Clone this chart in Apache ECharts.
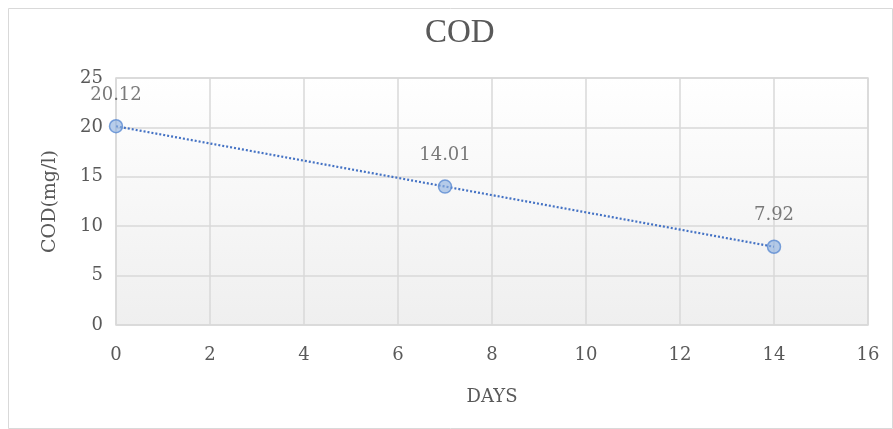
<!DOCTYPE html>
<html>
<head>
<meta charset="utf-8">
<script src="https://cdn.jsdelivr.net/npm/echarts@6/dist/echarts.min.js"></script>
<style>
html,body{margin:0;padding:0;background:#fff;}
#c{width:893px;height:429px;}
</style>
</head>
<body>
<div id="c"></div>
<script>
var days = [0, 7, 14];
var cod = [20.12, 14.01, 7.92];
var xTicks = [0, 2, 4, 6, 8, 10, 12, 14, 16];
var yTicks = [0, 5, 10, 15, 20, 25];

// linear trendline (least squares) from the data
var n = days.length, sx = 0, sy = 0, sxy = 0, sxx = 0;
for (var i = 0; i < n; i++) { sx += days[i]; sy += cod[i]; sxy += days[i]*cod[i]; sxx += days[i]*days[i]; }
var slope = (n*sxy - sx*sy) / (n*sxx - sx*sx);
var icpt = (sy - slope*sx) / n;
var x0 = days[0], x1 = days[n-1];
var trend = [[x0, icpt + slope*x0], [x1, icpt + slope*x1]];

var FONT = "'DejaVu Serif', 'Liberation Serif', serif";
var chart = echarts.init(document.getElementById('c'), null, {renderer: 'canvas'});
chart.setOption({
  animation: false,
  graphic: [{
    type: 'rect', left: 8, top: 8, z: -10,
    shape: {width: 884, height: 420},
    style: {fill: '#ffffff', stroke: '#d9d9d9', lineWidth: 1}
  }],
  title: {
    text: 'COD', left: 420, top: 12,
    textStyle: {fontFamily: "'Liberation Serif', serif", fontWeight: 'normal', fontSize: 33, color: '#595959'}
  },
  grid: {
    left: 116, right: 25, top: 78, bottom: 104, show: true,
    backgroundColor: {type: 'linear', x: 0, y: 0, x2: 0, y2: 1, colorStops: [{offset: 0, color: '#ffffff'}, {offset: 1, color: '#efefef'}]},
    borderColor: '#d9d9d9', borderWidth: 1.5
  },
  xAxis: {
    type: 'value', min: xTicks[0], max: xTicks[xTicks.length-1], interval: 2,
    name: 'DAYS', nameLocation: 'middle', nameGap: 63,
    nameTextStyle: {fontFamily: FONT, fontSize: 18, color: '#595959'},
    axisLine: {show: false}, axisTick: {show: false},
    axisLabel: {fontFamily: FONT, fontSize: 18, color: '#595959', margin: 21},
    splitLine: {show: true, lineStyle: {color: '#d9d9d9', width: 1.5}}
  },
  yAxis: {
    type: 'value', min: yTicks[0], max: yTicks[yTicks.length-1], interval: 5,
    name: 'COD(mg/l)', nameLocation: 'middle', nameGap: 56, nameRotate: 90,
    nameTextStyle: {fontFamily: FONT, fontSize: 19, color: '#595959'},
    axisLine: {show: false}, axisTick: {show: false},
    axisLabel: {fontFamily: FONT, fontSize: 18, color: '#595959', margin: 13},
    splitLine: {show: true, lineStyle: {color: '#d9d9d9', width: 1.5}}
  },
  series: [{
    type: 'line', data: trend, symbol: 'none', silent: true, z: 2,
    lineStyle: {color: '#4472c4', width: 2.2, type: [2, 2]}
  }, {
    type: 'scatter', z: 3,
    data: days.map(function(d, i){ return [d, cod[i]]; }),
    symbol: 'circle', symbolSize: 13,
    itemStyle: {color: 'rgba(143,176,224,0.8)', borderColor: '#5b8bd2', borderWidth: 1.5},
    label: {
      show: true, position: 'top', distance: 15,
      fontFamily: FONT, fontSize: 18, color: '#595959',
      formatter: function(p){ return p.value[1].toFixed(2); }
    }
  }]
});
</script>
</body>
</html>
